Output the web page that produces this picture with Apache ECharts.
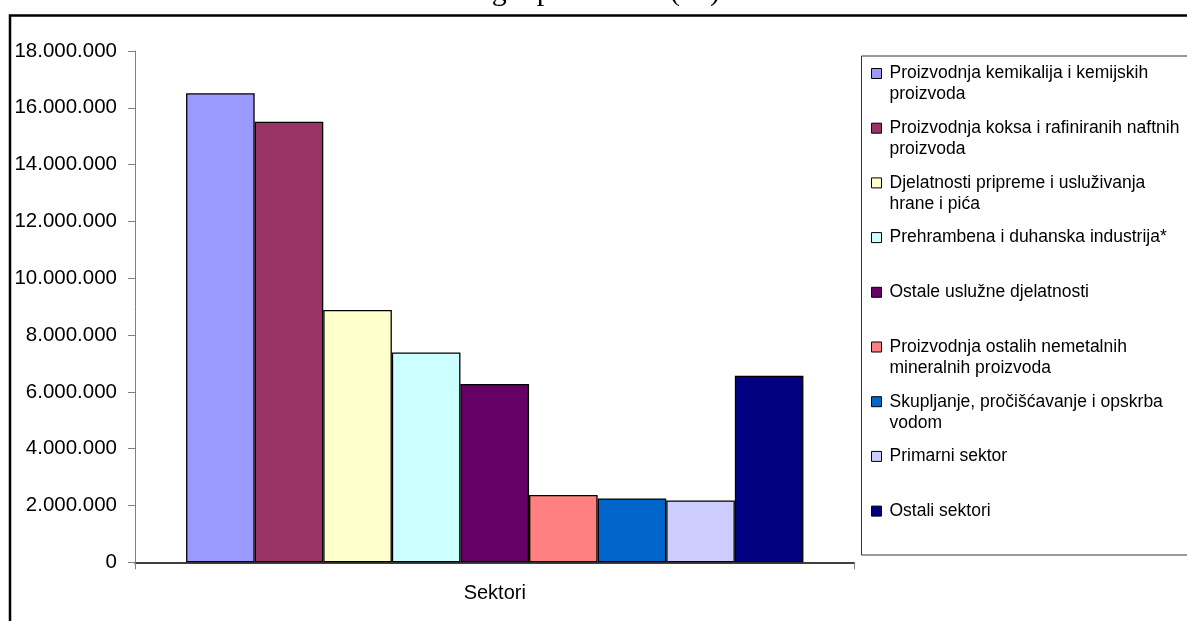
<!DOCTYPE html>
<html>
<head>
<meta charset="utf-8">
<script src="https://cdn.jsdelivr.net/npm/echarts@6/dist/echarts.min.js"></script>
<style>
html,body{margin:0;padding:0;background:#fff;}
#chart{width:1187px;height:621px;}
</style>
</head>
<body>
<div id="chart"></div>
<script>
const categories = ['Sektori'];
const seriesNames = [
  'Proizvodnja kemikalija i kemijskih proizvoda',
  'Proizvodnja koksa i rafiniranih naftnih proizvoda',
  'Djelatnosti pripreme i usluživanja hrane i pića',
  'Prehrambena i duhanska industrija*',
  'Ostale uslužne djelatnosti',
  'Proizvodnja ostalih nemetalnih mineralnih proizvoda',
  'Skupljanje, pročišćavanje i opskrba vodom',
  'Primarni sektor',
  'Ostali sektori'
];
const legendLabels = [
  'Proizvodnja kemikalija i kemijskih\nproizvoda',
  'Proizvodnja koksa i rafiniranih naftnih\nproizvoda',
  'Djelatnosti pripreme i usluživanja\nhrane i pića',
  'Prehrambena i duhanska industrija*',
  'Ostale uslužne djelatnosti',
  'Proizvodnja ostalih nemetalnih\nmineralnih proizvoda',
  'Skupljanje, pročišćavanje i opskrba\nvodom',
  'Primarni sektor',
  'Ostali sektori'
];
const seriesValues = [16510000, 15510000, 8880000, 7390000, 6280000, 2370000, 2250000, 2180000, 6570000];
const seriesColors = ['#9999FF', '#993366', '#FFFFCC', '#CCFFFF', '#660066', '#FF8080', '#0066CC', '#CCCCFF', '#000080'];
const yMin = 0, yMax = 18000000, yInterval = 2000000;
const titleText = 'Iznos naknade za CO2 u 2008. g – po sektoru (kn)';

const FONT = '"Liberation Sans", Arial, sans-serif';
const chart = echarts.init(document.getElementById('chart'), null, {renderer: 'canvas'});

const legends = seriesNames.map((name, i) => {
  const lbl = legendLabels[i];
  const multi = lbl.indexOf('\n') >= 0;
  const centerY = 73.5 + i * 54.7;
  return {
    show: true,
    orient: 'vertical',
    left: 871,
    top: multi ? centerY - 31.5 : centerY - 10.5,
    padding: 0,
    itemWidth: 10,
    itemHeight: 10,
    icon: 'rect',
    data: [name],
    formatter: () => (multi ? '\n' + lbl : lbl),
    itemStyle: {borderColor: '#000', borderWidth: 1},
    textStyle: {fontFamily: FONT, fontSize: 17.5, lineHeight: 21, color: '#000', padding: [0, 0, 0, 3]},
    selectedMode: false
  };
});

const option = {
  backgroundColor: '#fff',
  animation: false,
  grid: {left: 135, right: 332.5, top: 51, bottom: 58.7, containLabel: false},
  legend: legends,
  graphic: [
    {type: 'rect', shape: {x: 10, y: 15.5, width: 1300, height: 800}, style: {fill: 'none', stroke: '#000', lineWidth: 2.5}, silent: true},
    {type: 'rect', shape: {x: 861.5, y: 56, width: 500, height: 499}, style: {fill: 'none', stroke: '#333', lineWidth: 1}, silent: true, z: -1},
    {type: 'text', x: 720, y: -8, style: {text: titleText, font: '30px "Liberation Serif", "Times New Roman", serif', fill: '#000', align: 'right', verticalAlign: 'middle'}, silent: true}
  ],
  xAxis: {
    type: 'category',
    data: categories,
    axisLine: {show: true, lineStyle: {color: '#000', width: 1.5}},
    axisTick: {show: true, length: 7, inside: false, lineStyle: {color: '#808080', width: 1}},
    axisLabel: {fontFamily: FONT, fontSize: 20, color: '#000', margin: 21},
    splitLine: {show: false}
  },
  yAxis: {
    type: 'value',
    min: yMin, max: yMax, interval: yInterval,
    axisLine: {show: true, lineStyle: {color: '#808080', width: 1}},
    axisTick: {show: true, length: 7, inside: false, lineStyle: {color: '#808080', width: 1}},
    axisLabel: {
      fontFamily: FONT, fontSize: 20.5, color: '#000', margin: 18,
      formatter: v => String(Math.round(v)).replace(/\B(?=(\d{3})+(?!\d))/g, '.')
    },
    splitLine: {show: false}
  },
  series: seriesNames.map((name, i) => ({
    type: 'bar',
    name: name,
    data: [seriesValues[i]],
    barGap: '0%',
    barCategoryGap: '14.2%',
    itemStyle: {color: seriesColors[i], borderColor: '#000', borderWidth: 1.3}
  }))
};
chart.setOption(option);
</script>
</body>
</html>
